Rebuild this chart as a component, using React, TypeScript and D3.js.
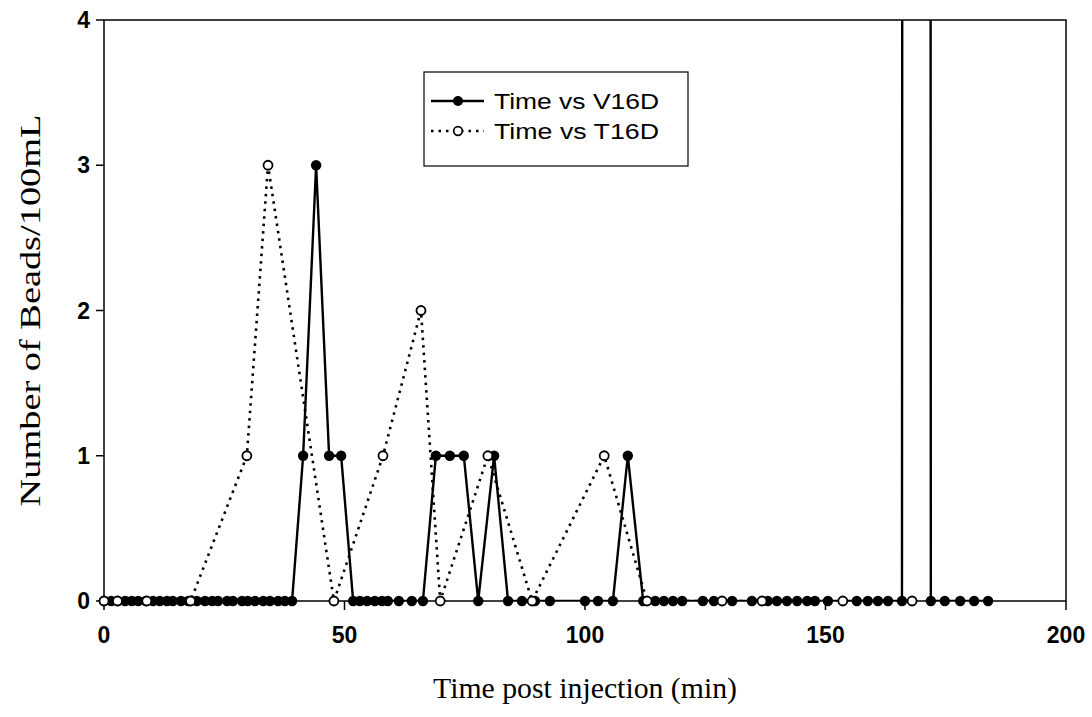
import React from "react";
import * as d3 from "d3";

// V16D (solid, filled markers)
const v16dTime = [
  0, 1.5, 2.9, 4.4, 5.8, 7.1, 8.7, 10.2, 11.6, 13.1, 14.3, 16, 17.5, 19.3, 21, 22.5, 23.7, 25.6, 26.8, 28.7,
  29.9, 31.4, 33.1, 34.5, 36.2, 37.6, 39.1, 41.4, 44.1, 46.8, 49.3, 51.8, 53.2, 54.7, 56.3, 57.8, 59, 61.3, 64,
  66.3, 69, 71.9, 74.8, 77.8, 81.1, 84, 86.9, 89.6, 92.7, 100, 102.7, 105.8, 108.9, 112.1, 114.6, 116.4, 118.3,
  120.2, 124.5, 126.8, 130.6, 134.7, 138, 139.9, 142, 144.1, 146.2, 147.8, 150.5, 156.5, 158.8, 160.9, 163,
  165.9, 169, 171.9, 174.8, 178, 180.9, 183.8,
];
const v16dBeads = [
  0, 0, 0, 0, 0, 0, 0, 0, 0, 0, 0, 0, 0, 0, 0, 0, 0, 0, 0, 0,
  0, 0, 0, 0, 0, 0, 0, 1, 3, 1, 1, 0, 0, 0, 0, 0, 0, 0, 0,
  0, 1, 1, 1, 0, 1, 0, 0, 0, 0, 0, 0, 0, 1, 0, 0, 0, 0,
  0, 0, 0, 0, 0, 0, 0, 0, 0, 0, 0, 0, 0, 0, 0, 0,
  0, 250, 0, 0, 0, 0, 0,
];

// T16D (dotted, open markers)
const t16dTime = [0, 2.8, 8.9, 18, 29.7, 34.1, 47.8, 58, 65.9, 69.9, 79.8, 89, 104, 112.9, 128.5, 136.8, 153.6, 168];
const t16dBeads = [0, 0, 0, 0, 1, 3, 0, 1, 2, 0, 1, 0, 1, 0, 0, 0, 0, 0];

const xTicks = [0, 50, 100, 150, 200];
const yTicks = [0, 1, 2, 3, 4];
const seriesNames = ["Time vs V16D", "Time vs T16D"];

const W = 1092;
const H = 717;
const left = 104;
const right = 1066;
const top = 20;
const bottom = 601;

export default function App() {
  const x = d3.scaleLinear().domain([0, 200]).range([left, right]);
  const y = d3.scaleLinear().domain([0, 4]).range([bottom, top]);

  const v16d = v16dTime.map((t, i) => ({ t, v: v16dBeads[i] }));
  const t16d = t16dTime.map((t, i) => ({ t, v: t16dBeads[i] }));

  const line = d3
    .line<{ t: number; v: number }>()
    .x((d) => x(d.t))
    .y((d) => y(d.v));

  const tickFont = "'Liberation Sans', Arial, sans-serif";
  const titleFont = "'Liberation Serif', 'Times New Roman', serif";

  return (
    <svg width={W} height={H} style={{ position: "absolute", left: 0, top: 0, background: "#fff" }}>
      <defs>
        <clipPath id="plotClip">
          <rect x={left} y={top} width={right - left} height={bottom - top} />
        </clipPath>
      </defs>
      <rect x={0} y={0} width={W} height={H} fill="#fff" />

      {/* frame */}
      <rect x={left} y={top} width={right - left} height={bottom - top} fill="none" stroke="#000" strokeWidth={1.5} />

      {/* y ticks */}
      {yTicks.map((t) => (
        <g key={"y" + t}>
          <line x1={left - 8} x2={left} y1={y(t)} y2={y(t)} stroke="#000" strokeWidth={1.5} />
          <text
            x={left - 14}
            y={y(t)}
            textAnchor="end"
            dominantBaseline="central"
            fontFamily={tickFont}
            fontSize={23}
            fontWeight="bold"
          >
            {t}
          </text>
        </g>
      ))}

      {/* x ticks */}
      {xTicks.map((t) => (
        <g key={"x" + t}>
          <line x1={x(t)} x2={x(t)} y1={bottom} y2={bottom + 9} stroke="#000" strokeWidth={1.5} />
          <text
            x={x(t)}
            y={bottom + 42}
            textAnchor="middle"
            fontFamily={tickFont}
            fontSize={23}
            fontWeight="bold"
          >
            {t}
          </text>
        </g>
      ))}

      {/* series lines */}
      <g clipPath="url(#plotClip)">
        <path d={line(t16d) || ""} fill="none" stroke="#000" strokeWidth={2.6} strokeDasharray="2.5 5" />
        <path d={line(v16d) || ""} fill="none" stroke="#000" strokeWidth={2.4} />
      </g>

      {/* markers */}
      {v16d
        .filter((d) => d.v <= 4)
        .map((d, i) => (
          <circle key={"v" + i} cx={x(d.t)} cy={y(d.v)} r={5.2} fill="#000" />
        ))}
      {t16d
        .filter((d) => d.v <= 4)
        .map((d, i) => (
          <circle key={"t" + i} cx={x(d.t)} cy={y(d.v)} r={4.5} fill="#fff" stroke="#000" strokeWidth={1.8} />
        ))}

      {/* legend */}
      <rect x={424} y={72} width={264} height={94} fill="#fff" stroke="#000" strokeWidth={1.2} />
      <line x1={431} x2={484} y1={101} y2={101} stroke="#000" strokeWidth={2.4} />
      <circle cx={458} cy={101} r={5} fill="#000" />
      <text x={494} y={101} dominantBaseline="central" fontFamily={tickFont} fontSize={22} textLength={165} lengthAdjust="spacingAndGlyphs">
        {seriesNames[0]}
      </text>
      <line x1={431} x2={484} y1={131} y2={131} stroke="#000" strokeWidth={2.4} strokeDasharray="2.5 5" />
      <circle cx={458} cy={131} r={4.3} fill="#fff" stroke="#000" strokeWidth={1.7} />
      <text x={494} y={131} dominantBaseline="central" fontFamily={tickFont} fontSize={22} textLength={165} lengthAdjust="spacingAndGlyphs">
        {seriesNames[1]}
      </text>

      {/* axis titles */}
      <text
        x={(left + right) / 2}
        y={698}
        textAnchor="middle"
        fontFamily={titleFont}
        fontSize={29}
        textLength={304}
        lengthAdjust="spacingAndGlyphs"
      >
        Time post injection (min)
      </text>
      <text
        transform={`translate(40, ${(top + bottom) / 2}) rotate(-90)`}
        textAnchor="middle"
        fontFamily={titleFont}
        fontSize={30}
        textLength={392}
        lengthAdjust="spacingAndGlyphs"
      >
        Number of Beads/100mL
      </text>
    </svg>
  );
}
